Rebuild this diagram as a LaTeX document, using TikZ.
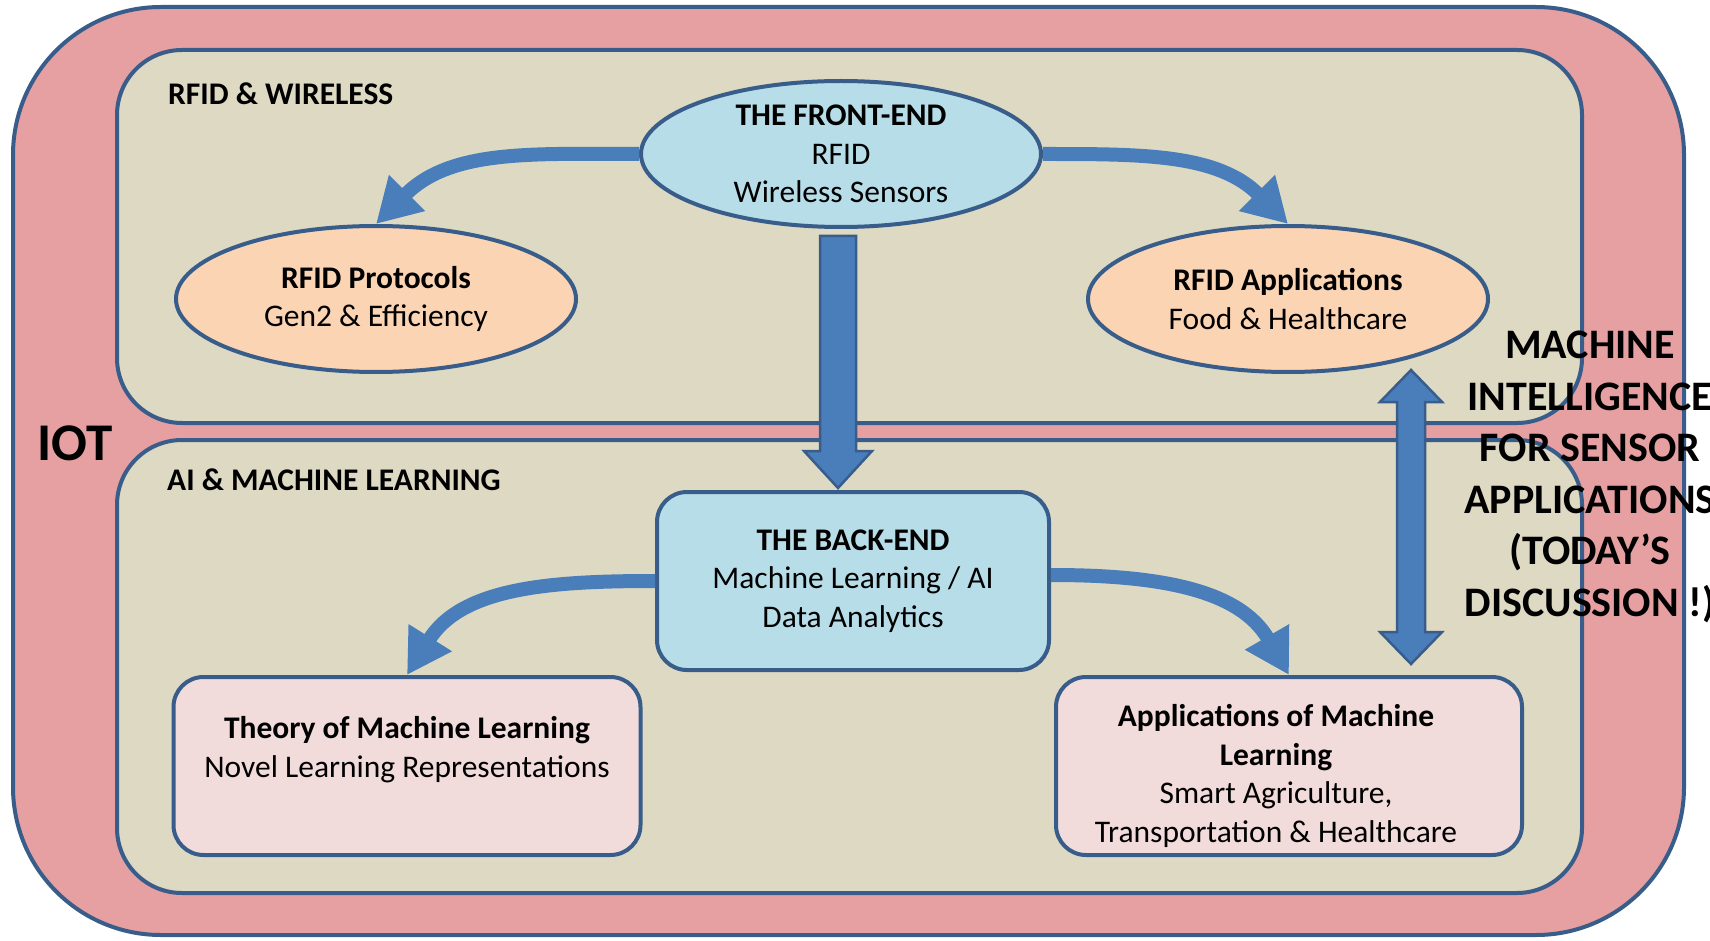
\documentclass[tikz,border=0pt]{standalone}
\usepackage{fontspec}
\setmainfont{Carlito}
\usepackage{xcolor}
\usepackage{tikz}
\usetikzlibrary{arrows.meta}
\usetikzlibrary{shapes.geometric, calc}

\definecolor{edgeblue}{HTML}{385D8A}
\definecolor{iotpink}{HTML}{E6A0A2}
\definecolor{paneltan}{HTML}{DDD9C3}
\definecolor{endblue}{HTML}{B7DDE8}
\definecolor{rfidorange}{HTML}{FBD4B4}
\definecolor{mlpink}{HTML}{F2DCDB}
\definecolor{flowblue}{HTML}{4A7EBB}

\begin{document}
\begin{tikzpicture}[x=1pt, y=1pt,
    txt/.style={font=\fontsize{31.5}{38.5}\selectfont, align=center, inner sep=0pt},
    panel/.style={draw=edgeblue, line width=4pt, fill=paneltan, rounded corners=65pt},
    oval/.style={ellipse, draw=edgeblue, line width=4pt, minimum width=400pt, minimum height=146pt, txt},
    card/.style={rectangle, draw=edgeblue, line width=4pt, rounded corners=30pt, minimum height=178pt, txt},
    curvearrow/.style={flowblue, line width=14pt, -{Triangle[length=44pt, width=48pt]}},
    block/.style={fill=flowblue, draw=edgeblue, line width=2.5pt, line join=miter}]

    \useasboundingbox (0,0) rectangle (1710,-941);

    % IOT frame
    \draw[fill=iotpink, draw=edgeblue, line width=4pt, rounded corners=148pt] (13,-7) rectangle (1684,-935);
    \node[font=\fontsize{53}{60}\selectfont\bfseries, inner sep=0pt] (iot) at (75,-443) {IOT};

    % Panels
    \draw[panel] (117,-50) rectangle (1582,-423);
    \draw[panel] (117,-440) rectangle (1582,-893);
    \node[txt, anchor=west] (rfidlbl) at (168,-94) {\textbf{RFID \& WIRELESS}};
    \node[txt, anchor=west] (mllbl) at (167,-480) {\textbf{AI \& MACHINE LEARNING}};

    % Front-end and RFID
    \node[oval, fill=endblue] (front) at (841,-154) {\textbf{THE FRONT-END}\\RFID\\Wireless Sensors};
    \node[oval, fill=rfidorange] (proto) at (376,-299) {\textbf{RFID Protocols}\\Gen2 \& Efficiency};
    \node[oval, fill=rfidorange] (rfidapps) at (1288,-299) {\textbf{RFID Applications}\\Food \& Healthcare};

    % Back-end and learning
    \node[card, fill=endblue, minimum width=392pt] (back) at (853,-581) {\textbf{THE BACK-END}\\Machine Learning / AI\\Data Analytics};
    \node[card, fill=mlpink, minimum width=467pt] (theory) at (407,-766) {\textbf{Theory of Machine Learning}\\Novel Learning Representations\\\mbox{}};
    \node[card, fill=mlpink, minimum width=466pt] (mlapps) at (1289,-766) {};
    \node[txt] (mlappstxt) at ($(mlapps.center)+(-13,-10)$) {\textbf{Applications of Machine}\\\textbf{Learning}\\Smart Agriculture,\\Transportation \& Healthcare};

    % Curved arrows
    \draw[curvearrow] (front.west) to[out=180, in=45] (proto.north);
    \draw[curvearrow] (front.east) to[out=0, in=135] (rfidapps.north);
    \draw[curvearrow] (back.west) to[out=180, in=58] (theory.north);
    \draw[curvearrow] ($(back.east)+(0,6)$) to[out=0, in=120] (mlapps.north);

    % Front-end down to back-end
    \draw[block] let \p1=(front.south), \p2=(back.north) in
        (\x1-21pt,\y1-7pt) -- (\x1+15pt,\y1-7pt) -- (\x1+15pt,\y2+39pt) -- (\x1+31pt,\y2+39pt)
        -- (\x1-3pt,\y2+2pt) -- (\x1-37pt,\y2+39pt) -- (\x1-21pt,\y2+39pt) -- cycle;

    % Double arrow
    \coordinate (mtop) at (1411,-370);
    \coordinate (mbot) at (1411,-664);
    \draw[block] let \p1=(mtop), \p2=(mbot) in
        (\x1,\y1) -- (\x1+31pt,\y1-32pt) -- (\x1+14pt,\y1-32pt) -- (\x1+14pt,\y2+32pt)
        -- (\x1+31pt,\y2+32pt) -- (\x1,\y2) -- (\x1-31pt,\y2+32pt) -- (\x1-14pt,\y2+32pt)
        -- (\x1-14pt,\y1-32pt) -- (\x1-31pt,\y1-32pt) -- cycle;

    \node[font=\fontsize{42}{51.5}\selectfont\bfseries, align=center, inner sep=0pt] (focus) at (1590,-477)
        {MACHINE\\INTELLIGENCE\\FOR SENSOR\\APPLICATIONS\\(TODAY’S\\DISCUSSION !)};
\end{tikzpicture}
\end{document}
